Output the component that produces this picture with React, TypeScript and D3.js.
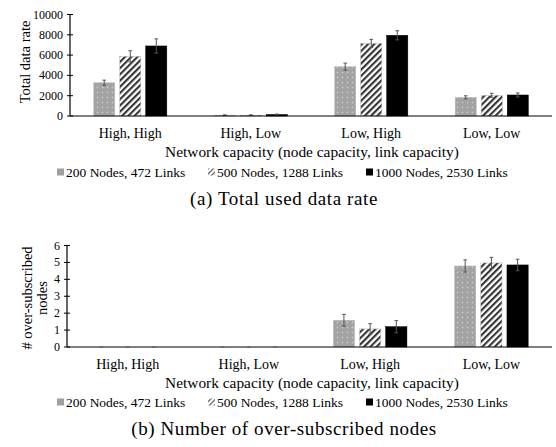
import * as d3 from 'd3';

const categories = ['High, High', 'High, Low', 'Low, High', 'Low, Low'];
const seriesNames = ['200 Nodes, 472 Links', '500 Nodes, 1288 Links', '1000 Nodes, 2530 Links'];

const rateValues = [
  [3280, 80, 4860, 1840],
  [5880, 80, 7150, 2040],
  [6900, 150, 7950, 2070],
];
const rateErrors = [
  [250, 30, 350, 150],
  [550, 30, 400, 200],
  [700, 40, 450, 200],
];
const rateTicks = [0, 2000, 4000, 6000, 8000, 10000];

const overValues = [
  [0, 0, 1.58, 4.79],
  [0, 0, 1.07, 4.97],
  [0, 0, 1.2, 4.85],
];
const overErrors = [
  [0, 0, 0.35, 0.36],
  [0, 0, 0.31, 0.33],
  [0, 0, 0.36, 0.34],
];
const overTicks = [0, 1, 2, 3, 4, 5, 6];

const FONT = '"Liberation Serif", "Times New Roman", serif';
const fills = ['url(#dots)', 'url(#stripes)', '#000'];

type PanelProps = {
  values: number[][];
  errors: number[][];
  ticks: number[];
  max: number;
  left: number;
  top: number;
  bottom: number;
  titleLines: string[];
  titleX: number[];
  titleY: number;
  labelY: number;
  axisTitleY: number;
  legendY: number;
  caption: string;
  captionY: number;
};

function Panel(p: PanelProps) {
  const right = 552;
  const x = d3.scaleBand<string>().domain(categories).range([p.left, right]);
  const inner = d3
    .scaleBand<string>()
    .domain(seriesNames)
    .range([0, x.bandwidth()])
    .paddingInner(0.19)
    .paddingOuter(0.91);
  const y = d3.scaleLinear().domain([0, p.max]).range([p.bottom, p.top]);
  const bw = inner.bandwidth();

  const legendX = [57, 208, 366];

  return (
    <g>
      {/* bars */}
      {seriesNames.map((s, si) =>
        categories.map((c, ci) => {
          const v = p.values[si][ci];
          const bx = x(c)! + inner(s)!;
          return (
            <rect
              key={s + c}
              x={bx}
              y={y(v)}
              width={bw}
              height={p.bottom - y(v)}
              fill={fills[si]}
              stroke={si === 2 ? '#000' : '#bbb'}
              strokeWidth={0.5}
            />
          );
        })
      )}
      {/* error bars */}
      {seriesNames.map((s, si) =>
        categories.map((c, ci) => {
          const v = p.values[si][ci];
          const e = p.errors[si][ci];
          const cx = x(c)! + inner(s)! + bw / 2;
          const y1 = y(v + e);
          const y0 = y(Math.max(0, v - e));
          const col = v === 0 ? '#ccc' : '#555';
          return (
            <g key={'e' + s + c} stroke={col} strokeWidth={1}>
              <line x1={cx} x2={cx} y1={y0} y2={y1} />
              <line x1={cx - 1.8} x2={cx + 1.8} y1={y1} y2={y1} />
              <line x1={cx - 1.8} x2={cx + 1.8} y1={y0} y2={y0} />
            </g>
          );
        })
      )}
      {/* axes */}
      <line x1={p.left} x2={right} y1={p.bottom} y2={p.bottom} stroke="#000" strokeWidth={1.2} />
      <line x1={p.left} x2={p.left} y1={p.bottom} y2={y(p.max)} stroke="#000" strokeWidth={1.2} />
      {p.ticks.map((t) => (
        <g key={t}>
          <line x1={p.left - 3} x2={p.left + 3} y1={y(t)} y2={y(t)} stroke="#000" strokeWidth={1} />
          <text
            x={p.left - 7}
            y={y(t)}
            textAnchor="end"
            dominantBaseline="central"
            fontSize={12}
            fontFamily={FONT}
          >
            {t}
          </text>
        </g>
      ))}
      {p.titleLines.map((t, i) => (
        <text
          key={t}
          transform={`translate(${p.titleX[i]},${p.titleY}) rotate(-90)`}
          textAnchor="middle"
          dominantBaseline="central"
          fontSize={14.5}
          fontFamily={FONT}
        >
          {t}
        </text>
      ))}
      {categories.map((c) => (
        <text
          key={c}
          x={x(c)! + x.bandwidth() / 2}
          y={p.labelY}
          textAnchor="middle"
          dominantBaseline="central"
          fontSize={14}
          fontFamily={FONT}
        >
          {c}
        </text>
      ))}
      <text
        x={312}
        y={p.axisTitleY}
        textAnchor="middle"
        dominantBaseline="central"
        fontSize={15.4}
        fontFamily={FONT}
      >
        Network capacity (node capacity, link capacity)
      </text>
      {seriesNames.map((s, si) => (
        <g key={'l' + s}>
          <rect
            x={legendX[si]}
            y={p.legendY - 3.5}
            width={7}
            height={7}
            fill={si === 1 ? 'url(#stripesSmall)' : si === 0 ? '#a0a0a0' : '#000'}
          />
          <text
            x={legendX[si] + 9}
            y={p.legendY}
            dominantBaseline="central"
            fontSize={13.5}
            fontFamily={FONT}
          >
            {s}
          </text>
        </g>
      ))}
      <text
        x={284}
        y={p.captionY}
        textAnchor="middle"
        dominantBaseline="central"
        fontSize={19}
        letterSpacing={0.6}
        fontFamily={FONT}
      >
        {p.caption}
      </text>
    </g>
  );
}

export default function App() {
  return (
    <svg
      width={556}
      height={447}
      style={{ position: 'absolute', left: 0, top: 0, background: '#fff' }}
    >
      <defs>
        <pattern id="dots" patternUnits="userSpaceOnUse" width={5} height={5}>
          <rect width={5} height={5} fill="#a4a4a4" />
          <circle cx={2.5} cy={2.5} r={1.4} fill="#c4c4c4" stroke="#888" strokeWidth={0.5} />
        </pattern>
        <pattern
          id="stripes"
          patternUnits="userSpaceOnUse"
          width={4.4}
          height={4.4}
          patternTransform="rotate(45)"
        >
          <rect width={4.4} height={4.4} fill="#fff" />
          <rect width={2.1} height={4.4} fill="#333" />
        </pattern>
        <pattern
          id="stripesSmall"
          patternUnits="userSpaceOnUse"
          width={3.5}
          height={3.5}
          patternTransform="rotate(45)"
        >
          <rect width={3.5} height={3.5} fill="#fff" />
          <rect width={1.2} height={3.5} fill="#555" />
        </pattern>
      </defs>
      <Panel
        values={rateValues}
        errors={rateErrors}
        ticks={rateTicks}
        max={10000}
        left={70}
        top={14.5}
        bottom={116}
        titleLines={['Total data rate']}
        titleX={[25]}
        titleY={62}
        labelY={133}
        axisTitleY={151}
        legendY={172}
        caption="(a)  Total used data rate"
        captionY={198}
      />
      <Panel
        values={overValues}
        errors={overErrors}
        ticks={overTicks}
        max={6}
        left={67}
        top={245.5}
        bottom={347}
        titleLines={['# over-subscribed', 'nodes']}
        titleX={[27, 42]}
        titleY={298}
        labelY={364}
        axisTitleY={382}
        legendY={402}
        caption="(b)  Number of over-subscribed nodes"
        captionY={428}
      />
    </svg>
  );
}
